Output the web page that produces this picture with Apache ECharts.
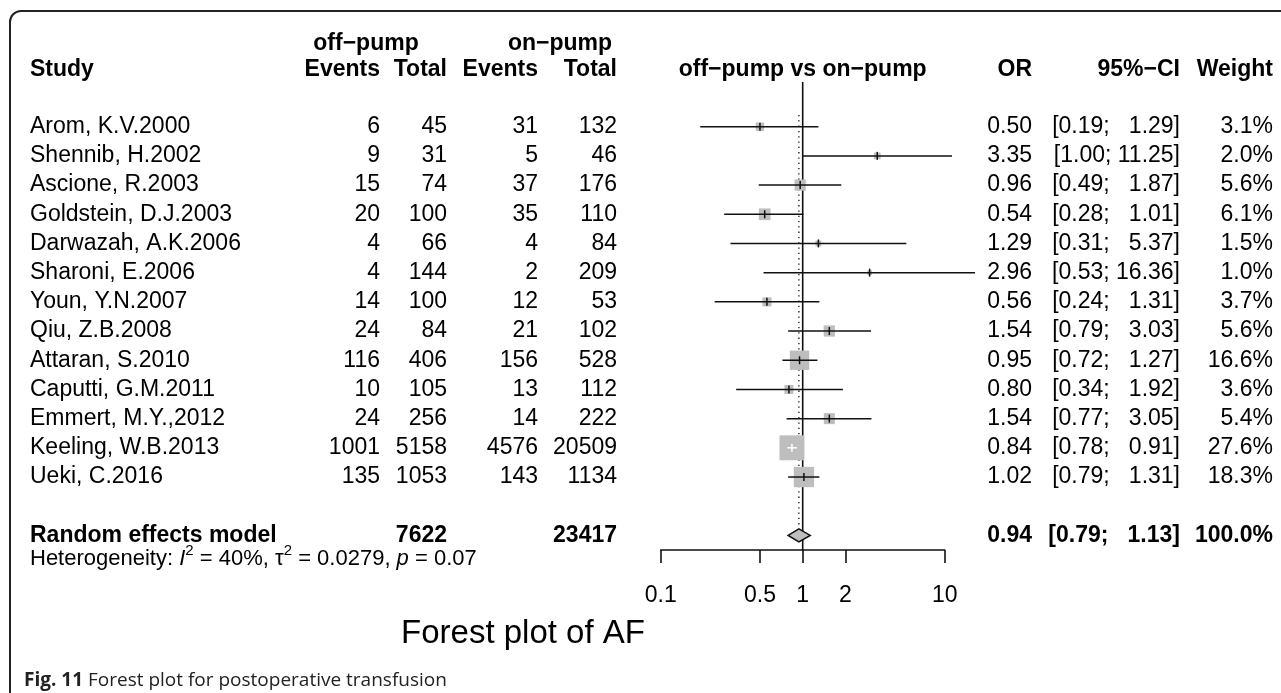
<!DOCTYPE html>
<html>
<head>
<meta charset="utf-8">
<script src="https://cdn.jsdelivr.net/npm/echarts@6/dist/echarts.min.js"></script>
<style>
  html, body { margin: 0; padding: 0; background: #fff; }
  #chart { width: 1281px; height: 693px; }
</style>
</head>
<body>
<div id="chart"></div>
<script>
// data
const studies = ['Arom, K.V.2000', 'Shennib, H.2002', 'Ascione, R.2003', 'Goldstein, D.J.2003',
  'Darwazah, A.K.2006', 'Sharoni, E.2006', 'Youn, Y.N.2007', 'Qiu, Z.B.2008', 'Attaran, S.2010',
  'Caputti, G.M.2011', 'Emmert, M.Y.,2012', 'Keeling, W.B.2013', 'Ueki, C.2016'];
const offEvents = [6, 9, 15, 20, 4, 4, 14, 24, 116, 10, 24, 1001, 135];
const offTotal = [45, 31, 74, 100, 66, 144, 100, 84, 406, 105, 256, 5158, 1053];
const onEvents = [31, 5, 37, 35, 4, 2, 12, 21, 156, 13, 14, 4576, 143];
const onTotal = [132, 46, 176, 110, 84, 209, 53, 102, 528, 112, 222, 20509, 1134];
const oddsRatio = [0.50, 3.35, 0.96, 0.54, 1.29, 2.96, 0.56, 1.54, 0.95, 0.80, 1.54, 0.84, 1.02];
const ciLower = [0.19, 1.00, 0.49, 0.28, 0.31, 0.53, 0.24, 0.79, 0.72, 0.34, 0.77, 0.78, 0.79];
const ciUpper = [1.29, 11.25, 1.87, 1.01, 5.37, 16.36, 1.31, 3.03, 1.27, 1.92, 3.05, 0.91, 1.31];
const weights = [3.1, 2.0, 5.6, 6.1, 1.5, 1.0, 3.7, 5.6, 16.6, 3.6, 5.4, 27.6, 18.3];

const pooledOR = 0.94;
const pooledLower = 0.79;
const pooledUpper = 1.13;
const pooledWeight = 100.0;
const pooledOffTotal = 7622;
const pooledOnTotal = 23417;
const pooledRow = 14;

const axisTicks = [0.1, 0.5, 1, 2, 10];

const FONT = '"Liberation Sans", Arial, sans-serif';
const FS = 23;

const lg = v => Math.log10(v);
const pad5 = v => (v < 10 ? '  ' : '') + v.toFixed(2);
const ciText = (lo, hi) => '[' + lo.toFixed(2) + '; ' + pad5(hi) + ']';

// column anchors (px)
const colStudy = 30, colOffEv = 380, colOffTot = 447, colOnEv = 538, colOnTot = 617;
const colOR = 1032, colCI = 1180, colW = 1273;

function txt(x, y, text, align, bold, size) {
  return {
    type: 'text', x: x, y: y,
    style: {
      text: text, fill: '#000', align: align, verticalAlign: 'middle',
      fontFamily: FONT, fontSize: size || FS, fontWeight: bold ? 'bold' : 'normal'
    }
  };
}

const tableRows = studies.map((s, i) => [0, i]);
const forestRows = studies.map((s, i) => [lg(oddsRatio[i]), i, lg(ciLower[i]), lg(ciUpper[i]), weights[i]]);

const chart = echarts.init(document.getElementById('chart'));
chart.setOption({
  animation: false,
  grid: { left: 660.7, right: 336.3, top: 39.1, bottom: 143 },
  xAxis: {
    type: 'value', min: -1, max: 1,
    splitLine: { show: false },
    axisLine: { show: true, onZero: false, lineStyle: { color: '#111', width: 1.6 } },
    axisTick: { show: true, length: 13, customValues: axisTicks.map(lg), lineStyle: { color: '#111', width: 1.6 } },
    axisLabel: {
      customValues: axisTicks.map(lg), margin: 34, color: '#000', fontFamily: FONT, fontSize: FS,
      formatter: v => String(axisTicks.find(t => Math.abs(lg(t) - v) < 1e-6))
    }
  },
  yAxis: { type: 'value', inverse: true, min: -3, max: 14.5, show: false },
  graphic: [
    { type: 'rect', shape: { x: 10, y: 11, width: 1300, height: 720, r: [11, 0, 0, 0] },
      style: { fill: 'none', stroke: '#222', lineWidth: 2 } },
    { type: 'text', x: 523, y: 634,
      style: { text: 'Forest plot of AF', fill: '#000', align: 'center', verticalAlign: 'middle',
        fontFamily: FONT, fontSize: 33 } },
    { type: 'text', x: 24, y: 681,
      style: { text: '{b|Fig. 11} Forest plot for postoperative transfusion', fill: '#222',
        verticalAlign: 'middle', fontFamily: '"Open Sans", sans-serif', fontSize: 19,
        rich: { b: { fontWeight: 'bold', fontFamily: '"Open Sans", sans-serif', fontSize: 19, fill: '#222' } } } }
  ],
  series: [
    {
      // reference lines at OR = 1 (solid) and pooled OR (dotted)
      type: 'custom',
      data: [[lg(1), -1.53, 14.5, 0], [lg(pooledOR), -0.4, 13.74, 1]],
      renderItem: (params, api) => {
        const a = api.coord([api.value(0), api.value(1)]);
        const b = api.coord([api.value(0), api.value(2)]);
        const dotted = api.value(3) === 1;
        return {
          type: 'line', shape: { x1: a[0], y1: a[1], x2: b[0], y2: b[1] },
          style: { stroke: '#111', lineWidth: dotted ? 1.3 : 1.6, lineDash: dotted ? [1.3, 4] : null }
        };
      },
      z: 1
    },
    {
      // study boxes and confidence intervals
      type: 'custom',
      data: forestRows,
      renderItem: (params, api) => {
        const c = api.coord([api.value(0), api.value(1)]);
        const lo = api.coord([api.value(2), api.value(1)]);
        const hi = api.coord([api.value(3), api.value(1)]);
        const side = 4.75 * Math.sqrt(api.value(4));
        const inside = lo[0] >= c[0] - side / 2 && hi[0] <= c[0] + side / 2;
        const col = inside ? '#fff' : '#111';
        return {
          type: 'group',
          children: [
            { type: 'rect', shape: { x: c[0] - side / 2, y: c[1] - side / 2, width: side, height: side },
              style: { fill: '#bebebe' } },
            { type: 'line', shape: { x1: lo[0], y1: c[1], x2: hi[0], y2: c[1] },
              style: { stroke: col, lineWidth: 1.5 } },
            { type: 'line', shape: { x1: c[0], y1: c[1] - 4, x2: c[0], y2: c[1] + 4 },
              style: { stroke: col, lineWidth: 1.5 } }
          ]
        };
      },
      z: 2
    },
    {
      // pooled diamond
      type: 'custom',
      data: [[lg(pooledOR), pooledRow, lg(pooledLower), lg(pooledUpper)]],
      renderItem: (params, api) => {
        const c = api.coord([api.value(0), api.value(1)]);
        const lo = api.coord([api.value(2), api.value(1)]);
        const hi = api.coord([api.value(3), api.value(1)]);
        return {
          type: 'polygon',
          shape: { points: [[lo[0], c[1]], [c[0], c[1] - 6.5], [hi[0], c[1]], [c[0], c[1] + 6.5]] },
          style: { fill: '#bebebe', stroke: '#111', lineWidth: 1.5 }
        };
      },
      z: 3
    },
    {
      // table text for each study
      type: 'custom',
      data: tableRows,
      renderItem: (params, api) => {
        const i = params.dataIndex;
        const y = api.coord([0, api.value(1)])[1];
        return {
          type: 'group',
          children: [
            txt(colStudy, y, studies[i], 'left'),
            txt(colOffEv, y, String(offEvents[i]), 'right'),
            txt(colOffTot, y, String(offTotal[i]), 'right'),
            txt(colOnEv, y, String(onEvents[i]), 'right'),
            txt(colOnTot, y, String(onTotal[i]), 'right'),
            txt(colOR, y, oddsRatio[i].toFixed(2), 'right'),
            txt(colCI, y, ciText(ciLower[i], ciUpper[i]), 'right'),
            txt(colW, y, weights[i].toFixed(1) + '%', 'right')
          ]
        };
      }
    },
    {
      // headers, pooled row and heterogeneity line
      type: 'custom',
      data: [[0, pooledRow]],
      renderItem: (params, api) => {
        const h1 = api.coord([0, -2.85])[1];
        const h2 = api.coord([0, -1.95])[1];
        const yp = api.coord([0, api.value(1)])[1];
        const yh = api.coord([0, pooledRow + 0.8])[1];
        const xOne = api.coord([0, 0])[0];
        return {
          type: 'group',
          children: [
            txt(366, h1, 'off\u2212pump', 'center', true),
            txt(560, h1, 'on\u2212pump', 'center', true),
            txt(colStudy, h2, 'Study', 'left', true),
            txt(colOffEv, h2, 'Events', 'right', true),
            txt(colOffTot, h2, 'Total', 'right', true),
            txt(colOnEv, h2, 'Events', 'right', true),
            txt(colOnTot, h2, 'Total', 'right', true),
            txt(xOne, h2, 'off\u2212pump vs on\u2212pump', 'center', true),
            txt(colOR, h2, 'OR', 'right', true),
            txt(colCI, h2, '95%\u2212CI', 'right', true),
            txt(colW, h2, 'Weight', 'right', true),
            txt(colStudy, yp, 'Random effects model', 'left', true),
            txt(colOffTot, yp, String(pooledOffTotal), 'right', true),
            txt(colOnTot, yp, String(pooledOnTotal), 'right', true),
            txt(colOR, yp, pooledOR.toFixed(2), 'right', true),
            txt(colCI, yp, ciText(pooledLower, pooledUpper), 'right', true),
            txt(colW, yp, pooledWeight.toFixed(1) + '%', 'right', true),
            {
              type: 'text', x: colStudy, y: yh,
              style: {
                text: 'Heterogeneity: {i|I}{s|2} = 40%, \u03c4{s|2} = 0.0279, {i|p} = 0.07',
                fill: '#000', align: 'left', verticalAlign: 'middle', fontFamily: FONT, fontSize: 22,
                rich: {
                  i: { fontStyle: 'italic', fontFamily: FONT, fontSize: 22, fill: '#000' },
                  s: { fontFamily: FONT, fontSize: 15, fill: '#000', verticalAlign: 'top', lineHeight: 30 }
                }
              }
            }
          ]
        };
      }
    }
  ]
});
</script>
</body>
</html>
